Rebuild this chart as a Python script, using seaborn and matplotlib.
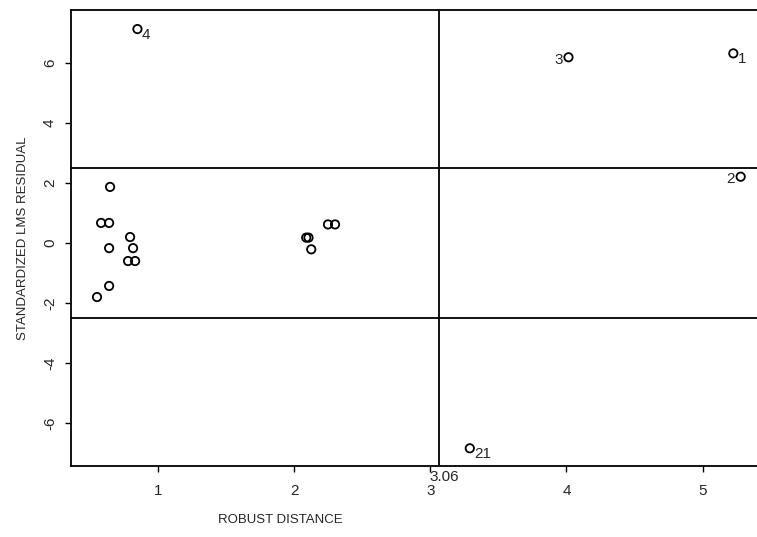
import numpy as np
import pandas as pd
import seaborn as sns
import matplotlib.pyplot as plt

# -------------------------------------------------------------------
# Data
# -------------------------------------------------------------------
robust_dist = [0.647, 0.581, 0.640, 0.794, 0.640, 0.816, 0.779, 0.831, 0.640, 0.551,
               2.248, 2.300, 2.088, 2.105, 2.125,
               4.015, 5.226, 5.280, 0.848, 3.290]
lms_resid = [1.87, 0.67, 0.67, 0.20, -0.17, -0.17, -0.60, -0.60, -1.43, -1.80,
             0.62, 0.62, 0.18, 0.18, -0.21,
             6.19, 6.32, 2.21, 7.13, -6.84]
point_labels = [""] * 15 + ["3", "1", "2", "4", "21"]

# cutoffs
dist_cut = 3.06
resid_cut = 2.5

x_ticks = [1, 2, 3, 4, 5]
y_ticks = [-6, -4, -2, 0, 2, 4, 6]

df = pd.DataFrame({"dist": robust_dist, "resid": lms_resid, "label": point_labels})

# -------------------------------------------------------------------
# Plot
# -------------------------------------------------------------------
sns.set_style("white")
plt.rcParams["font.family"] = ["Liberation Sans", "DejaVu Sans"]

fig = plt.figure(figsize=(7.57, 5.37), dpi=100)
ax = fig.add_axes([0.0938, 0.1322, 0.9062, 0.8500])

sns.scatterplot(data=df, x="dist", y="resid", ax=ax, marker="o", s=36,
                facecolor="none", edgecolor="black", linewidth=1.3, zorder=3)

# cutoff lines
ax.axvline(dist_cut, color="black", lw=1.3)
ax.axhline(resid_cut, color="black", lw=1.3)
ax.axhline(-resid_cut, color="black", lw=1.3)

# point labels: 3 and 2 to the left, others as subscript to the right
for _, r in df[df["label"] != ""].iterrows():
    if r["label"] in ("3", "2"):
        ax.annotate(r["label"], (r["dist"], r["resid"]), xytext=(-4, -2),
                    textcoords="offset points", ha="right", va="center", fontsize=11)
    else:
        ax.annotate(r["label"], (r["dist"], r["resid"]), xytext=(3, -4),
                    textcoords="offset points", ha="left", va="center", fontsize=11)

ax.set_xlim(0.36, 5.40)
ax.set_ylim(-7.43, 7.78)
ax.set_xticks(x_ticks)
ax.set_yticks(y_ticks)
ax.set_yticklabels([str(v) for v in y_ticks], rotation=90, va="center")
ax.tick_params(axis="both", direction="out", length=4, width=1, color="black",
               labelsize=11, left=True, bottom=True)
ax.tick_params(axis="x", pad=9)
ax.tick_params(axis="y", pad=6)

# extra label for the distance cutoff
ax.annotate("3.06", (dist_cut, -7.43), xytext=(4, -3), textcoords="offset points",
            ha="center", va="top", fontsize=11)

for side in ["left", "bottom", "top"]:
    ax.spines[side].set_color("black")
    ax.spines[side].set_linewidth(1.3)
ax.spines["right"].set_visible(False)

ax.set_xlabel("ROBUST DISTANCE", fontsize=9.5)
ax.set_ylabel("STANDARDIZED LMS RESIDUAL", fontsize=9.5, labelpad=10)
ax.xaxis.set_label_coords(0.305, -0.105)

plt.savefig("out.png", dpi=100)
plt.close()
